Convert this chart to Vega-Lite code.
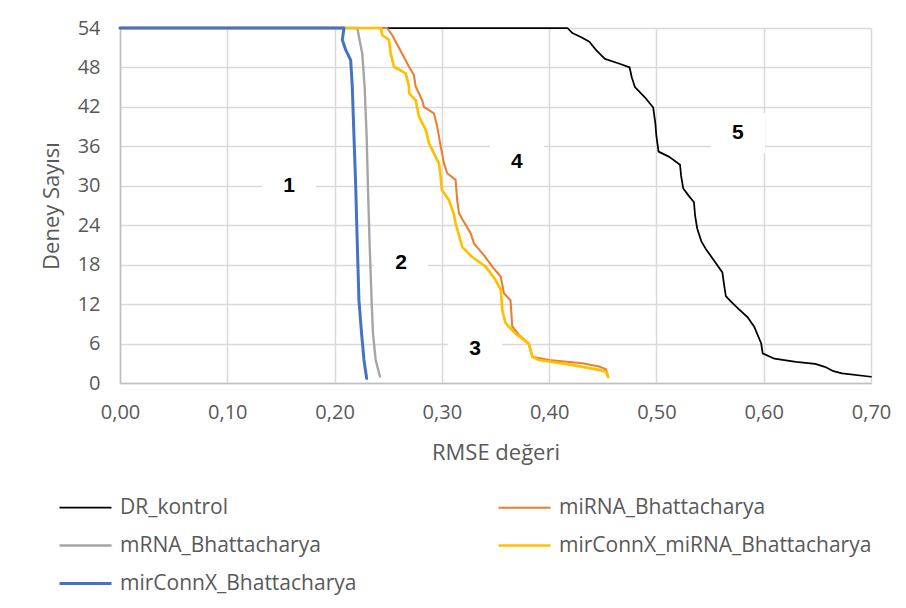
{
  "$schema": "https://vega.github.io/schema/vega-lite/v6.json",
  "width": 751,
  "height": 355,
  "autosize": "none",
  "padding": {"left": 120, "top": 28, "right": 35, "bottom": 225},
  "background": "white",
  "config": {
    "font": "Open Sans",
    "view": {"stroke": null},
    "axis": {
      "labelColor": "#595959",
      "titleColor": "#595959",
      "labelFont": "Open Sans",
      "titleFont": "Open Sans",
      "labelFontSize": 20,
      "titleFontSize": 22,
      "titleFontWeight": "normal",
      "gridColor": "#d9d9d9",
      "gridWidth": 1.5,
      "domainColor": "#bfbfbf",
      "domainWidth": 1.5,
      "ticks": false,
      "tickSize": 0,
      "labelOverlap": false,
      "labelFlush": false
    }
  },
  "datasets": {
    "curves": [
      {"s": "DR_kontrol", "x": 0, "y": 54},
      {"s": "DR_kontrol", "x": 0.417, "y": 54},
      {"s": "DR_kontrol", "x": 0.422, "y": 53.2},
      {"s": "DR_kontrol", "x": 0.430, "y": 52.6},
      {"s": "DR_kontrol", "x": 0.4375, "y": 51.9},
      {"s": "DR_kontrol", "x": 0.444, "y": 50.6},
      {"s": "DR_kontrol", "x": 0.452, "y": 49.3},
      {"s": "DR_kontrol", "x": 0.465, "y": 48.6},
      {"s": "DR_kontrol", "x": 0.475, "y": 48.0},
      {"s": "DR_kontrol", "x": 0.477, "y": 46.5},
      {"s": "DR_kontrol", "x": 0.480, "y": 45.0},
      {"s": "DR_kontrol", "x": 0.489, "y": 43.5},
      {"s": "DR_kontrol", "x": 0.497, "y": 41.9},
      {"s": "DR_kontrol", "x": 0.499, "y": 39.5},
      {"s": "DR_kontrol", "x": 0.500, "y": 37.5},
      {"s": "DR_kontrol", "x": 0.502, "y": 35.2},
      {"s": "DR_kontrol", "x": 0.512, "y": 34.4},
      {"s": "DR_kontrol", "x": 0.522, "y": 33.2},
      {"s": "DR_kontrol", "x": 0.523, "y": 31.5},
      {"s": "DR_kontrol", "x": 0.525, "y": 29.6},
      {"s": "DR_kontrol", "x": 0.530, "y": 28.5},
      {"s": "DR_kontrol", "x": 0.535, "y": 27.5},
      {"s": "DR_kontrol", "x": 0.536, "y": 25.5},
      {"s": "DR_kontrol", "x": 0.538, "y": 23.5},
      {"s": "DR_kontrol", "x": 0.542, "y": 21.5},
      {"s": "DR_kontrol", "x": 0.546, "y": 20.4},
      {"s": "DR_kontrol", "x": 0.553, "y": 18.8},
      {"s": "DR_kontrol", "x": 0.5615, "y": 16.8},
      {"s": "DR_kontrol", "x": 0.563, "y": 15.0},
      {"s": "DR_kontrol", "x": 0.5647, "y": 13.2},
      {"s": "DR_kontrol", "x": 0.570, "y": 12.3},
      {"s": "DR_kontrol", "x": 0.577, "y": 11.2},
      {"s": "DR_kontrol", "x": 0.585, "y": 10.0},
      {"s": "DR_kontrol", "x": 0.591, "y": 8.6},
      {"s": "DR_kontrol", "x": 0.5976, "y": 6.05},
      {"s": "DR_kontrol", "x": 0.599, "y": 4.5},
      {"s": "DR_kontrol", "x": 0.610, "y": 3.7},
      {"s": "DR_kontrol", "x": 0.630, "y": 3.2},
      {"s": "DR_kontrol", "x": 0.648, "y": 2.9},
      {"s": "DR_kontrol", "x": 0.657, "y": 2.46},
      {"s": "DR_kontrol", "x": 0.665, "y": 1.8},
      {"s": "DR_kontrol", "x": 0.673, "y": 1.45},
      {"s": "DR_kontrol", "x": 0.700, "y": 0.95},

      {"s": "miRNA_Bhattacharya", "x": 0, "y": 54},
      {"s": "miRNA_Bhattacharya", "x": 0.249, "y": 54},
      {"s": "miRNA_Bhattacharya", "x": 0.2538, "y": 52.9},
      {"s": "miRNA_Bhattacharya", "x": 0.263, "y": 50.1},
      {"s": "miRNA_Bhattacharya", "x": 0.2694, "y": 48.1},
      {"s": "miRNA_Bhattacharya", "x": 0.274, "y": 46.8},
      {"s": "miRNA_Bhattacharya", "x": 0.2756, "y": 45.1},
      {"s": "miRNA_Bhattacharya", "x": 0.2817, "y": 43.0},
      {"s": "miRNA_Bhattacharya", "x": 0.2833, "y": 42.0},
      {"s": "miRNA_Bhattacharya", "x": 0.2926, "y": 41.0},
      {"s": "miRNA_Bhattacharya", "x": 0.2957, "y": 39.0},
      {"s": "miRNA_Bhattacharya", "x": 0.2989, "y": 36.0},
      {"s": "miRNA_Bhattacharya", "x": 0.302, "y": 33.4},
      {"s": "miRNA_Bhattacharya", "x": 0.305, "y": 31.9},
      {"s": "miRNA_Bhattacharya", "x": 0.3128, "y": 30.9},
      {"s": "miRNA_Bhattacharya", "x": 0.3143, "y": 27.8},
      {"s": "miRNA_Bhattacharya", "x": 0.316, "y": 25.8},
      {"s": "miRNA_Bhattacharya", "x": 0.3206, "y": 24.5},
      {"s": "miRNA_Bhattacharya", "x": 0.3268, "y": 22.8},
      {"s": "miRNA_Bhattacharya", "x": 0.330, "y": 21.2},
      {"s": "miRNA_Bhattacharya", "x": 0.339, "y": 19.5},
      {"s": "miRNA_Bhattacharya", "x": 0.347, "y": 17.7},
      {"s": "miRNA_Bhattacharya", "x": 0.3548, "y": 16.2},
      {"s": "miRNA_Bhattacharya", "x": 0.358, "y": 13.6},
      {"s": "miRNA_Bhattacharya", "x": 0.364, "y": 12.6},
      {"s": "miRNA_Bhattacharya", "x": 0.3656, "y": 8.6},
      {"s": "miRNA_Bhattacharya", "x": 0.372, "y": 7.3},
      {"s": "miRNA_Bhattacharya", "x": 0.381, "y": 6.0},
      {"s": "miRNA_Bhattacharya", "x": 0.3843, "y": 4.0},
      {"s": "miRNA_Bhattacharya", "x": 0.3998, "y": 3.5},
      {"s": "miRNA_Bhattacharya", "x": 0.431, "y": 3.0},
      {"s": "miRNA_Bhattacharya", "x": 0.4464, "y": 2.5},
      {"s": "miRNA_Bhattacharya", "x": 0.453, "y": 2.1},
      {"s": "miRNA_Bhattacharya", "x": 0.455, "y": 1.0},

      {"s": "mRNA_Bhattacharya", "x": 0, "y": 54},
      {"s": "mRNA_Bhattacharya", "x": 0.2212, "y": 54},
      {"s": "mRNA_Bhattacharya", "x": 0.2227, "y": 52.7},
      {"s": "mRNA_Bhattacharya", "x": 0.2258, "y": 50.1},
      {"s": "mRNA_Bhattacharya", "x": 0.228, "y": 45.1},
      {"s": "mRNA_Bhattacharya", "x": 0.2299, "y": 37.5},
      {"s": "mRNA_Bhattacharya", "x": 0.2311, "y": 29.9},
      {"s": "mRNA_Bhattacharya", "x": 0.2325, "y": 22.0},
      {"s": "mRNA_Bhattacharya", "x": 0.2345, "y": 12.6},
      {"s": "mRNA_Bhattacharya", "x": 0.2358, "y": 7.5},
      {"s": "mRNA_Bhattacharya", "x": 0.2383, "y": 3.5},
      {"s": "mRNA_Bhattacharya", "x": 0.2423, "y": 1.0},

      {"s": "mirConnX_miRNA_Bhattacharya", "x": 0, "y": 54},
      {"s": "mirConnX_miRNA_Bhattacharya", "x": 0.243, "y": 54},
      {"s": "mirConnX_miRNA_Bhattacharya", "x": 0.2445, "y": 52.9},
      {"s": "mirConnX_miRNA_Bhattacharya", "x": 0.2507, "y": 52.2},
      {"s": "mirConnX_miRNA_Bhattacharya", "x": 0.2523, "y": 50.1},
      {"s": "mirConnX_miRNA_Bhattacharya", "x": 0.2554, "y": 48.1},
      {"s": "mirConnX_miRNA_Bhattacharya", "x": 0.2663, "y": 47.1},
      {"s": "mirConnX_miRNA_Bhattacharya", "x": 0.2694, "y": 45.1},
      {"s": "mirConnX_miRNA_Bhattacharya", "x": 0.2694, "y": 44.1},
      {"s": "mirConnX_miRNA_Bhattacharya", "x": 0.2756, "y": 43.0},
      {"s": "mirConnX_miRNA_Bhattacharya", "x": 0.2787, "y": 40.5},
      {"s": "mirConnX_miRNA_Bhattacharya", "x": 0.285, "y": 38.5},
      {"s": "mirConnX_miRNA_Bhattacharya", "x": 0.288, "y": 36.5},
      {"s": "mirConnX_miRNA_Bhattacharya", "x": 0.2942, "y": 34.4},
      {"s": "mirConnX_miRNA_Bhattacharya", "x": 0.2973, "y": 33.4},
      {"s": "mirConnX_miRNA_Bhattacharya", "x": 0.2989, "y": 31.4},
      {"s": "mirConnX_miRNA_Bhattacharya", "x": 0.300, "y": 29.4},
      {"s": "mirConnX_miRNA_Bhattacharya", "x": 0.3066, "y": 27.8},
      {"s": "mirConnX_miRNA_Bhattacharya", "x": 0.311, "y": 25.8},
      {"s": "mirConnX_miRNA_Bhattacharya", "x": 0.3128, "y": 24.3},
      {"s": "mirConnX_miRNA_Bhattacharya", "x": 0.319, "y": 20.7},
      {"s": "mirConnX_miRNA_Bhattacharya", "x": 0.328, "y": 19.2},
      {"s": "mirConnX_miRNA_Bhattacharya", "x": 0.3408, "y": 17.7},
      {"s": "mirConnX_miRNA_Bhattacharya", "x": 0.350, "y": 15.7},
      {"s": "mirConnX_miRNA_Bhattacharya", "x": 0.355, "y": 14.1},
      {"s": "mirConnX_miRNA_Bhattacharya", "x": 0.3563, "y": 11.1},
      {"s": "mirConnX_miRNA_Bhattacharya", "x": 0.3594, "y": 9.1},
      {"s": "mirConnX_miRNA_Bhattacharya", "x": 0.3688, "y": 7.5},
      {"s": "mirConnX_miRNA_Bhattacharya", "x": 0.381, "y": 6.0},
      {"s": "mirConnX_miRNA_Bhattacharya", "x": 0.3843, "y": 4.0},
      {"s": "mirConnX_miRNA_Bhattacharya", "x": 0.3905, "y": 3.5},
      {"s": "mirConnX_miRNA_Bhattacharya", "x": 0.420, "y": 2.8},
      {"s": "mirConnX_miRNA_Bhattacharya", "x": 0.4464, "y": 2.0},
      {"s": "mirConnX_miRNA_Bhattacharya", "x": 0.453, "y": 1.7},
      {"s": "mirConnX_miRNA_Bhattacharya", "x": 0.455, "y": 0.9},

      {"s": "mirConnX_Bhattacharya", "x": 0, "y": 54},
      {"s": "mirConnX_Bhattacharya", "x": 0.2088, "y": 54},
      {"s": "mirConnX_Bhattacharya", "x": 0.2072, "y": 52.2},
      {"s": "mirConnX_Bhattacharya", "x": 0.2103, "y": 50.7},
      {"s": "mirConnX_Bhattacharya", "x": 0.215, "y": 49.1},
      {"s": "mirConnX_Bhattacharya", "x": 0.2165, "y": 45.1},
      {"s": "mirConnX_Bhattacharya", "x": 0.2181, "y": 37.5},
      {"s": "mirConnX_Bhattacharya", "x": 0.2197, "y": 29.9},
      {"s": "mirConnX_Bhattacharya", "x": 0.2212, "y": 21.0},
      {"s": "mirConnX_Bhattacharya", "x": 0.2227, "y": 12.6},
      {"s": "mirConnX_Bhattacharya", "x": 0.2252, "y": 7.5},
      {"s": "mirConnX_Bhattacharya", "x": 0.2274, "y": 3.5},
      {"s": "mirConnX_Bhattacharya", "x": 0.2299, "y": 0.7}
    ],
    "regions": [
      {"t": "1", "x": 0.1575, "y": 30.0},
      {"t": "2", "x": 0.262, "y": 18.3},
      {"t": "3", "x": 0.331, "y": 5.2},
      {"t": "4", "x": 0.370, "y": 33.6},
      {"t": "5", "x": 0.576, "y": 38.0}
    ]
  },
  "layer": [
    {
      "data": {"name": "curves"},
      "mark": {"type": "line", "strokeJoin": "round", "strokeCap": "round"},
      "encoding": {
        "x": {
          "field": "x", "type": "quantitative",
          "scale": {"domain": [0, 0.7], "nice": false, "zero": false},
          "axis": {
            "title": "RMSE değeri",
            "values": [0, 0.1, 0.2, 0.3, 0.4, 0.5, 0.6, 0.7],
            "tickCount": 20,
            "labelExpr": "replace(format(datum.value, '.2f'), '.', ',')",
            "labelPadding": 19,
            "titlePadding": 20
          }
        },
        "y": {
          "field": "y", "type": "quantitative",
          "scale": {"domain": [0, 54], "nice": false},
          "axis": {
            "title": "Deney Sayısı",
            "values": [0, 6, 12, 18, 24, 30, 36, 42, 48, 54],
            "tickCount": 20,
            "labelOverlap": false,
            "labelPadding": 20,
            "titlePadding": 14
          }
        },
        "color": {
          "field": "s", "type": "nominal",
          "scale": {
            "domain": ["DR_kontrol", "miRNA_Bhattacharya", "mRNA_Bhattacharya", "mirConnX_miRNA_Bhattacharya", "mirConnX_Bhattacharya"],
            "range": ["#000000", "#ED7D31", "#A5A5A5", "#FFC000", "#4472C4"]
          },
          "legend": {
            "title": null,
            "orient": "none",
            "legendX": -62,
            "legendY": 452,
            "direction": "horizontal",
            "columns": 2,
            "columnPadding": 136,
            "rowPadding": -5,
            "symbolType": "stroke",
            "symbolSize": 2704,
            "symbolStrokeWidth": 3,
            "labelFont": "Open Sans",
            "labelFontSize": 21,
            "labelColor": "#595959",
            "labelOffset": 7,
            "labelLimit": 400
          }
        },
        "strokeWidth": {
          "field": "s", "type": "nominal",
          "scale": {
            "domain": ["DR_kontrol", "miRNA_Bhattacharya", "mRNA_Bhattacharya", "mirConnX_miRNA_Bhattacharya", "mirConnX_Bhattacharya"],
            "range": [1.75, 3, 3, 3, 3]
          }
        },
        "order": {"value": null}
      }
    },
    {
      "data": {"name": "regions"},
      "mark": {
        "type": "point",
        "shape": "M-1,-0.74L1,-0.74L1,0.74L-1,0.74Z",
        "size": 2916,
        "filled": true,
        "fill": "white",
        "opacity": 1,
        "strokeWidth": 0
      },
      "encoding": {
        "x": {"field": "x", "type": "quantitative"},
        "y": {"field": "y", "type": "quantitative"}
      }
    },
    {
      "data": {"name": "regions"},
      "mark": {
        "type": "text",
        "font": "Liberation Sans",
        "fontSize": 21,
        "fontWeight": "bold",
        "color": "#000000",
        "baseline": "middle",
        "align": "center"
      },
      "encoding": {
        "x": {"field": "x", "type": "quantitative"},
        "y": {"field": "y", "type": "quantitative"},
        "text": {"field": "t"}
      }
    }
  ]
}
